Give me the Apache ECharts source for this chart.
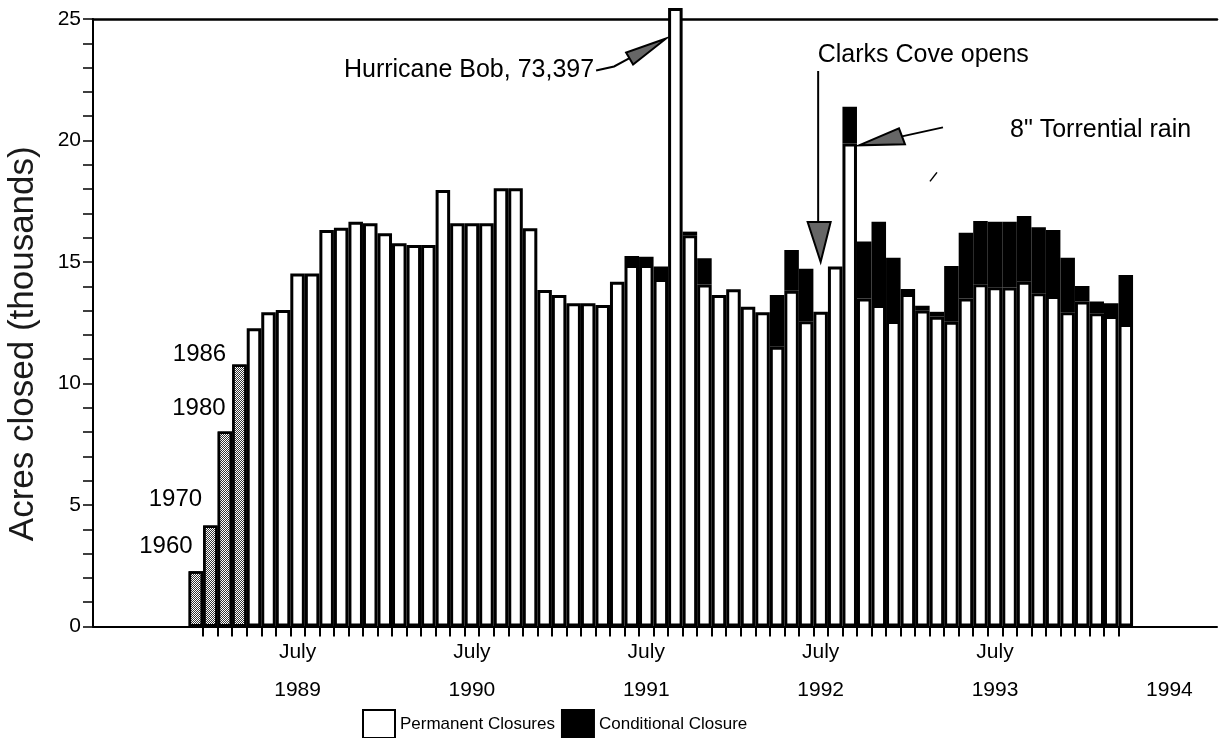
<!DOCTYPE html>
<html><head><meta charset="utf-8">
<script src="https://cdn.jsdelivr.net/npm/echarts@6/dist/echarts.min.js"></script>
<style>html,body{margin:0;padding:0;background:#fff}#c{width:1227px;height:738px}</style>
</head><body><div id="c"></div>
<script>
// ---------------- data ----------------
const HIST_YEARS = ['1960', '1970', '1980', '1986'];
const HIST_ACRES = [2.27, 4.16, 8.02, 10.78];            // thousands of acres
const MONTH_ABBR = ['Jan','Feb','Mar','Apr','May','Jun','Jul','Aug','Sep','Oct','Nov','Dec'];
const FIRST_YEAR = 1989, FIRST_MONTH = 3;                 // April 1989
const MONTH_SLOTS = 68;                                   // Apr 1989 .. Nov 1994 (axis runs past the last bar)
// Permanent closures (thousands), Apr 1989 .. Apr 1994 (Sep 1991 bar drawn broken, true value 73.397)
const PERMANENT = [
  12.27, 12.93, 13.02, 14.53, 14.53, 16.32, 16.41, 16.66, 16.59, 16.18,
  15.77, 15.70, 15.70, 17.96, 16.59, 16.59, 16.59, 18.03, 18.03, 16.39,
  13.85, 13.64, 13.30, 13.30, 13.23, 14.19, 14.88, 14.88, 14.30, 25.45,
  16.10, 14.07, 13.64, 13.88, 13.16, 12.93, 11.51, 13.82, 12.56, 12.95,
  14.81, 19.88, 13.50, 13.23, 12.57, 13.68, 13.00, 12.75, 12.54, 13.50,
  14.08, 13.96, 13.95, 14.19, 13.71, 13.60, 12.93, 13.37, 12.89, 12.78,
  12.45
];
// Conditional closures stacked on top (thousands)
const CONDITIONAL = [
  null, null, null, null, null, null, null, null, null, null,
  null, null, null, null, null, null, null, null, null, null,
  null, null, null, null, null, null, 0.37, 0.34, 0.51, null,
  0.15, 1.08, null, null, null, null, 2.13, 1.67, 2.16, null,
  null, 1.51, 2.34, 3.43, 2.61, 0.21, 0.20, 0.20, 2.30, 2.70,
  2.61, 2.70, 2.71, 2.70, 2.72, 2.72, 2.25, 0.64, 0.48, 0.52,
  2.02
];
const TICK_MONTH = 'July';
const TICK_YEARS = ['1989', '1990', '1991', '1992', '1993', '1994'];
const SERIES_NAMES = ['Permanent Closures', 'Conditional Closure'];
const Y_TITLE = 'Acres closed (thousands)';
const NOTE_HURRICANE = 'Hurricane Bob, 73,397';
const NOTE_CLARKS = 'Clarks Cove opens';
const NOTE_RAIN = '8" Torrential rain';

// ---------------- build ----------------
const monthCats = [];
for (let i = 0; i < MONTH_SLOTS; i++) {
  const m = (FIRST_MONTH + i) % 12, y = FIRST_YEAR + Math.floor((FIRST_MONTH + i) / 12);
  monthCats.push(MONTH_ABBR[m] + ' ' + y);
}
const cats = HIST_YEARS.concat(monthCats);
const nH = HIST_YEARS.length, nData = PERMANENT.length;
const pad = (arr, before, total) => {
  const out = new Array(before).fill(null).concat(arr);
  while (out.length < total) out.push(null);
  return out;
};
const histData = pad(HIST_ACRES, 0, cats.length);
const permData = pad(PERMANENT, nH, cats.length);
const condData = pad(CONDITIONAL, nH, cats.length);

const HIST_LABEL_POS = [[4, -25], [-1, -26], [8, -23], [-6, -10]];
const FONT = "'Liberation Sans', Arial, Helvetica, sans-serif";

const BAR_LEFT = 188.6, SLOT = 14.53;

const chart = echarts.init(document.getElementById('c'), null, {renderer: 'canvas'});

const option = {
  backgroundColor: '#fff',
  animation: false,
  textStyle: {fontFamily: FONT, color: '#000'},
  grid: [
    {left: 93, right: 10, top: 19, bottom: 111.5, outerBoundsMode: 'none'},
    {left: BAR_LEFT, width: cats.length * SLOT, top: 19, bottom: 111.5, outerBoundsMode: 'none'}
  ],
  xAxis: [
    {type: 'value', gridIndex: 0, min: 0, max: 1, axisLine: {show: true, lineStyle: {color: '#000', width: 2}},
     axisTick: {show: false}, axisLabel: {show: false}, splitLine: {show: false}},
    {type: 'value', gridIndex: 0, position: 'top', min: 0, max: 1, axisLine: {show: true, lineStyle: {color: '#000', width: 2.5}},
     axisTick: {show: false}, axisLabel: {show: false}, splitLine: {show: false}},
    {type: 'category', gridIndex: 1, data: cats, boundaryGap: true,
     axisLine: {show: false},
     axisTick: {show: true, length: 10, lineStyle: {color: '#000', width: 2},
       interval: function (idx) { return idx >= 1 && idx <= nH + nData - 1; }},
     axisLabel: {
       show: true, margin: 16,
       interval: function (idx, val) {
         const mi = monthCats.indexOf(val);
         return mi >= 0 && val.indexOf('Jul') === 0 && TICK_YEARS.indexOf(val.split(' ')[1]) >= 0;
       },
       formatter: function (val) {
         const yr = val.split(' ')[1];
         const hasData = monthCats.indexOf(val) < nData;
         return '{m|' + (hasData ? TICK_MONTH : ' ') + '}\n{y|' + yr + '}';
       },
       rich: {
         m: {fontSize: 21, lineHeight: 20, fontFamily: FONT, color: '#000'},
         y: {fontSize: 21, lineHeight: 56, fontFamily: FONT, color: '#000'}
       }
     }}
  ],
  yAxis: [
    {type: 'value', gridIndex: 0, min: 0, max: 25, interval: 5,
     axisLine: {show: true, lineStyle: {color: '#000', width: 2}},
     axisTick: {show: true, inside: false, length: 10, lineStyle: {color: '#000', width: 1.5}},
     minorTick: {show: true, splitNumber: 5, length: 10, lineStyle: {color: '#000', width: 1.5}},
     axisLabel: {fontSize: 21, margin: 12, color: '#000', fontFamily: FONT},
     splitLine: {show: false}},
    {type: 'value', gridIndex: 1, min: 0, max: 25, show: false}
  ],
  legend: {
    left: 357, top: 704, itemWidth: 32, itemHeight: 28, itemGap: 6, icon: 'rect',
    data: SERIES_NAMES,
    textStyle: {fontSize: 17, fontFamily: FONT, color: '#000'},
    selectedMode: false
  },
  series: [
    {name: 'Historical', type: 'bar', xAxisIndex: 2, yAxisIndex: 1, stack: 'acres', barCategoryGap: '0%',
     data: histData.map((v, i) => v == null ? null : {
       value: v,
       label: {show: true, position: HIST_LABEL_POS[i], align: 'right', verticalAlign: 'middle',
               formatter: HIST_YEARS[i], fontSize: 24, fontFamily: FONT, color: '#000'}
     }),
     itemStyle: {color: '#fff', borderColor: '#000', borderWidth: 2.5,
       decal: {symbol: 'rect', symbolSize: 1, color: '#333', dashArrayX: [[1, 1], [0, 1, 1, 0]], dashArrayY: [1, 0]}},
     clip: false},
    {name: SERIES_NAMES[0], type: 'bar', xAxisIndex: 2, yAxisIndex: 1, stack: 'acres', barCategoryGap: '0%',
     data: permData, itemStyle: {color: '#fff', borderColor: '#000', borderWidth: 3}, clip: false},
    {name: SERIES_NAMES[1], type: 'bar', xAxisIndex: 2, yAxisIndex: 1, stack: 'acres', barCategoryGap: '0%',
     data: condData, itemStyle: {color: '#000', borderColor: '#000', borderWidth: 3}, clip: false}
  ]
};
chart.setOption(option);

// ---------------- annotations anchored to bars ----------------
const px = (cat, v) => chart.convertToPixel({xAxisIndex: 2, yAxisIndex: 1}, [cat, v]);
const slotW = px(cats[1], 0)[0] - px(cats[0], 0)[0];
const hb = nH + PERMANENT.indexOf(Math.max.apply(null, PERMANENT));   // hurricane bar
const cc = cats.indexOf('Jul 1992');
const tr = cats.indexOf('Sep 1992');
const h0 = px(cats[hb], 24.2); const T1 = [h0[0] - slotW / 2 - 2, h0[1]];
const c0 = px(cats[cc], 15.0); const T2 = [c0[0], c0[1]];
const r0 = px(cats[tr], 19.8); const T3 = [r0[0] + slotW / 2 + 2, r0[1]];
const add = (T, d) => [T[0] + d[0], T[1] + d[1]];
const ARROW_FILL = '#666';
const yMid = (px(cats[0], 0)[1] + px(cats[0], 25)[1]) / 2;
const graphics = [
  // y-axis title
  {type: 'text', x: 23, y: yMid + 21, rotation: Math.PI / 2,
   style: {text: Y_TITLE, font: "35px " + FONT, fill: '#1a1a1a', align: 'center', verticalAlign: 'middle'}},
  // Hurricane Bob
  {type: 'polyline', shape: {points: [add(T1, [-70, 32]), add(T1, [-52, 28]), add(T1, [-37, 20])]}, style: {stroke: '#000', lineWidth: 2, fill: null}},
  {type: 'polygon', shape: {points: [T1, add(T1, [-40, 14]), add(T1, [-33, 26])]}, style: {fill: ARROW_FILL, stroke: '#000', lineWidth: 2}},
  {type: 'text', x: add(T1, [-72, 32])[0], y: add(T1, [-72, 32])[1],
   style: {text: NOTE_HURRICANE, font: "25px " + FONT, fill: '#000', align: 'right', verticalAlign: 'middle'}},
  // Clarks Cove
  {type: 'line', shape: {x1: T2[0] - 2.5, y1: T2[1] - 191, x2: T2[0] - 2.5, y2: T2[1] - 40}, style: {stroke: '#000', lineWidth: 2}},
  {type: 'polygon', shape: {points: [T2, add(T2, [-13, -40]), add(T2, [10, -40])]}, style: {fill: ARROW_FILL, stroke: '#000', lineWidth: 2}},
  {type: 'text', x: T2[0] - 3, y: T2[1] - 207,
   style: {text: NOTE_CLARKS, font: "25px " + FONT, fill: '#000', align: 'left', verticalAlign: 'middle'}},
  // Torrential rain
  {type: 'line', shape: {x1: T3[0] + 84, y1: T3[1] - 18, x2: T3[0] + 43, y2: T3[1] - 9}, style: {stroke: '#000', lineWidth: 2}},
  {type: 'polygon', shape: {points: [T3, add(T3, [40, -17]), add(T3, [46, -1])]}, style: {fill: ARROW_FILL, stroke: '#000', lineWidth: 2}},
  {type: 'text', x: T3[0] + 151, y: T3[1] - 15,
   style: {text: NOTE_RAIN, font: "25px " + FONT, fill: '#000', align: 'left', verticalAlign: 'middle'}},
  {type: 'line', shape: {x1: T3[0] + 71, y1: T3[1] + 36, x2: T3[0] + 78, y2: T3[1] + 27}, style: {stroke: '#000', lineWidth: 1.5}}
];
chart.setOption({graphic: graphics});
</script>
</body></html>
